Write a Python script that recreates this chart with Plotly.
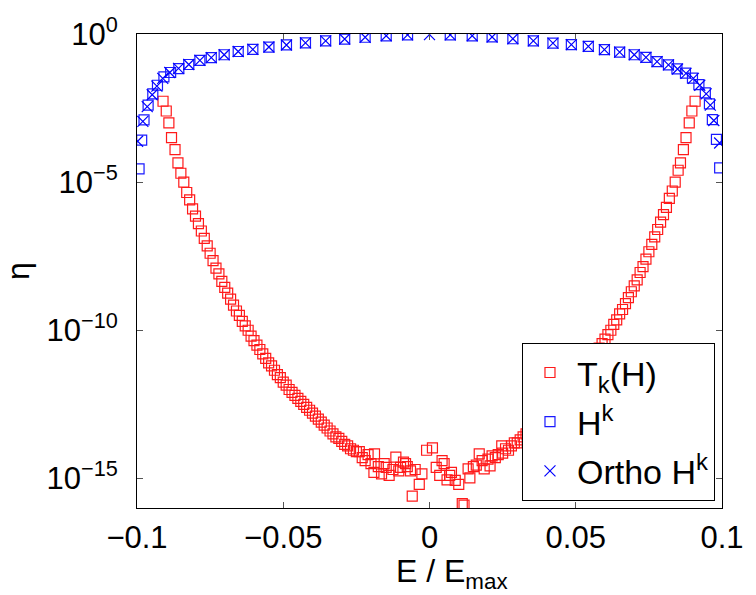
import plotly.graph_objects as go

# ---------------- data ----------------
# T_k(H): energies and log10(eta)
red_E = [
    -0.0911, -0.0900, -0.0891, -0.0882, -0.0870, -0.0860, -0.0850, -0.0840, -0.0830, -0.0820,
    -0.0810, -0.0800, -0.0790, -0.0780, -0.0770, -0.0760, -0.0750, -0.0740, -0.0730, -0.0720,
    -0.0710, -0.0700, -0.0690, -0.0680, -0.0670, -0.0660, -0.0650, -0.0640, -0.0630, -0.0620,
    -0.0610, -0.0600, -0.0590, -0.0580, -0.0570, -0.0560, -0.0550, -0.0540, -0.0530, -0.0520,
    -0.0510, -0.0500, -0.0490, -0.0480, -0.0470, -0.0460, -0.0450, -0.0440, -0.0430, -0.0420,
    -0.0410, -0.0400, -0.0390, -0.0380, -0.0370, -0.0360, -0.0350, -0.0340, -0.0330, -0.0320,
    -0.0310, -0.0300, -0.0290, -0.0280, -0.0270, -0.0260, -0.0250,
    -0.0240, -0.0230, -0.0220, -0.0210, -0.0200, -0.0190, -0.0188, -0.0175, -0.0164, -0.0155,
    -0.0148, -0.0138, -0.0125, -0.0115, -0.0105, -0.0099, -0.0089, -0.0082, -0.0076, -0.0065,
    -0.0059, -0.0049, -0.0035, -0.0026, -0.0010,
    0.0010, 0.0023, 0.0035, 0.0043, 0.0050, 0.0060, 0.0069, 0.0075, 0.0088, 0.0100,
    0.0112, 0.0118, 0.0132, 0.0138, 0.0150, 0.0160, 0.0170, 0.0180, 0.0187, 0.0200,
    0.0207, 0.0214, 0.0225, 0.0235, 0.0247,
    0.0250, 0.0260, 0.0270, 0.0280, 0.0290, 0.0300, 0.0310, 0.0320, 0.0330, 0.0340,
    0.0350, 0.0360, 0.0370, 0.0380, 0.0390, 0.0400, 0.0410, 0.0420, 0.0430, 0.0440,
    0.0450, 0.0460, 0.0470, 0.0480, 0.0490, 0.0500, 0.0510, 0.0520, 0.0530, 0.0540,
    0.0550, 0.0560, 0.0570, 0.0580, 0.0590, 0.0600, 0.0610, 0.0620, 0.0630, 0.0640,
    0.0650, 0.0660, 0.0670, 0.0680, 0.0690, 0.0700, 0.0710, 0.0720, 0.0730, 0.0740,
    0.0750, 0.0760, 0.0770, 0.0780, 0.0790, 0.0800, 0.0810, 0.0820, 0.0830, 0.0840,
    0.0850, 0.0858, 0.0868, 0.0877, 0.0888, 0.0897, 0.0908,
]
red_log10_eta = [
    -2.27, -2.60, -3.00, -3.50, -3.90, -4.35, -4.70, -5.00, -5.35, -5.60,
    -5.90, -6.15, -6.40, -6.65, -6.90, -7.15, -7.40, -7.65, -7.90, -8.10,
    -8.35, -8.55, -8.75, -8.95, -9.15, -9.35, -9.50, -9.70, -9.85, -10.00,
    -10.20, -10.35, -10.50, -10.65, -10.80, -10.95, -11.10, -11.20, -11.35, -11.50,
    -11.60, -11.75, -11.85, -12.00, -12.10, -12.20, -12.30, -12.40, -12.50, -12.60,
    -12.70, -12.80, -12.90, -13.00, -13.10, -13.20, -13.30, -13.40, -13.50, -13.60,
    -13.65, -13.75, -13.85, -13.90, -14.00, -14.05, -14.10,
    -14.10, -14.30, -14.40, -14.20, -14.50, -14.80, -14.17, -14.60, -14.85, -14.50,
    -14.63, -14.90, -14.70, -14.28, -14.75, -14.63, -14.45, -14.50, -14.60, -14.75,
    -15.60, -14.70, -15.20, -14.85, -14.05,
    -13.97, -14.63, -14.90, -14.40, -14.50, -15.05, -14.90, -14.80, -15.07, -15.20,
    -15.85, -15.90, -14.68, -14.98, -14.60, -14.55, -14.17, -14.40, -14.68, -14.35,
    -14.58, -14.24, -14.30, -14.20, -13.90,
    -14.15, -14.00, -14.05, -13.90, -13.80, -13.80, -13.70, -13.60, -13.50, -13.35,
    -13.30, -13.15, -13.10, -12.95, -12.85, -12.80, -12.65, -12.55, -12.45, -12.35,
    -12.25, -12.15, -12.00, -11.90, -11.80, -11.65, -11.55, -11.40, -11.30, -11.15,
    -11.00, -10.85, -10.75, -10.60, -10.45, -10.30, -10.15, -10.00, -9.80, -9.65,
    -9.45, -9.30, -9.10, -8.90, -8.70, -8.50, -8.30, -8.05, -7.85, -7.60,
    -7.35, -7.10, -6.85, -6.60, -6.35, -6.10, -5.85, -5.55, -5.30, -5.00,
    -4.60, -4.35, -3.90, -3.50, -3.00, -2.60, -2.27,
]

# H^k
blue_E = [
    -0.0993, -0.0984, -0.0976, -0.0962, -0.0946, -0.0930, -0.0908, -0.0885, -0.0857, -0.0823,
    -0.0785, -0.0746, -0.0702, -0.0654, -0.0604, -0.0549, -0.0489, -0.0424, -0.0355, -0.0290,
    -0.0220, -0.0148, -0.0075,
    0.0071, 0.0146, 0.0214, 0.0285, 0.0355, 0.0422, 0.0485, 0.0543, 0.0598, 0.0650,
    0.0700, 0.0740, 0.0778, 0.0817, 0.0846, 0.0875, 0.0899, 0.0921, 0.0943, 0.0957,
    0.0967, 0.0981, 0.0992,
]
blue_log10_eta = [
    -4.55, -3.58, -2.90, -2.40, -2.02, -1.73, -1.45, -1.30, -1.17, -1.03,
    -0.89, -0.80, -0.70, -0.59, -0.52, -0.44, -0.37, -0.30, -0.23, -0.17,
    -0.11, -0.06, -0.03,
    -0.03, -0.06, -0.10, -0.16, -0.23, -0.31, -0.36, -0.42, -0.53, -0.61,
    -0.70, -0.79, -0.93, -1.04, -1.18, -1.32, -1.49, -1.71, -1.99, -2.36,
    -2.89, -3.56, -4.52,
]

# Ortho H^k
ortho_E = [
    -0.0998, -0.0980, -0.0965, -0.0948, -0.0932, -0.0912, -0.0888, -0.0858, -0.0823,
    -0.0785, -0.0746, -0.0702, -0.0654, -0.0604, -0.0549, -0.0489, -0.0424, -0.0355, -0.0290,
    -0.0220, -0.0148, -0.0075, 0.0,
    0.0071, 0.0146, 0.0214, 0.0285, 0.0355, 0.0422, 0.0485, 0.0543, 0.0598, 0.0650,
    0.0700, 0.0740, 0.0778, 0.0817, 0.0848, 0.0877, 0.0902, 0.0924, 0.0946, 0.0960,
    0.0972, 0.0992,
]
ortho_log10_eta = [
    -3.62, -2.95, -2.45, -2.05, -1.76, -1.50, -1.30, -1.16, -1.03,
    -0.89, -0.80, -0.70, -0.59, -0.52, -0.44, -0.37, -0.30, -0.23, -0.17,
    -0.11, -0.06, -0.03, -0.02,
    -0.03, -0.06, -0.10, -0.16, -0.23, -0.31, -0.36, -0.42, -0.53, -0.61,
    -0.70, -0.79, -0.93, -1.04, -1.18, -1.33, -1.50, -1.73, -2.02, -2.40,
    -2.92, -3.68,
]

x_tick_vals = [-0.1, -0.05, 0, 0.05, 0.1]
x_tick_text = ["\u22120.1", "\u22120.05", "0", "0.05", "0.1"]
y_tick_vals = [1e-15, 1e-10, 1e-5, 1]
y_tick_text = ["10<sup>\u221215</sup>", "10<sup>\u221210</sup>", "10<sup>\u22125</sup>", "10<sup>0</sup>"]

# ---------------- figure ----------------
FONT = "Liberation Sans, Arial, sans-serif"
FS = 31
red_eta = [10 ** v for v in red_log10_eta]
blue_eta = [10 ** v for v in blue_log10_eta]
ortho_eta = [10 ** v for v in ortho_log10_eta]

fig = go.Figure()
fig.add_trace(go.Scatter(
    x=red_E, y=red_eta, mode="markers", name="T<sub>k</sub>(H)", legendgroup="a",
    marker=dict(symbol="square-open", size=10, color="#ff1a1a", line=dict(width=1.2)),
))
fig.add_trace(go.Scatter(
    x=blue_E, y=blue_eta, mode="markers", name="H<sup>k</sup>", legendgroup="b",
    marker=dict(symbol="square-open", size=10, color="#1a1aff", line=dict(width=1.2)),
))
fig.add_trace(go.Scatter(
    x=ortho_E, y=ortho_eta, mode="markers", name="Ortho H<sup>k</sup>", legendgroup="c",
    marker=dict(symbol="x-thin-open", size=11, color="#0000ff", line=dict(width=1.2)),
))

axis_common = dict(
    showline=True, linecolor="black", linewidth=1, mirror="ticks",
    ticks="inside", ticklen=6, tickwidth=1, tickcolor="#555555",
    showgrid=False, zeroline=False, ticklabeloverflow="allow",
    tickfont=dict(family=FONT, size=FS, color="black"),
)

fig.update_layout(
    width=756, height=595,
    margin=dict(l=126, r=22, t=32, b=87),
    paper_bgcolor="white", plot_bgcolor="white",
    font=dict(family=FONT, size=FS, color="black"),
    xaxis=dict(
        range=[-0.1, 0.1], tickvals=x_tick_vals, ticktext=x_tick_text,
        ticklabelstandoff=2,
        **axis_common,
    ),
    yaxis=dict(
        type="log", range=[-16, 0], tickvals=y_tick_vals, ticktext=y_tick_text,
        ticklabelstandoff=12,
        title=dict(text="\u03b7", font=dict(family=FONT, size=32), standoff=12),
        **axis_common,
    ),
    legend=dict(
        x=0.988, y=0.015, xanchor="right", yanchor="bottom",
        bgcolor="white", bordercolor="black", borderwidth=1,
        font=dict(family=FONT, size=34, color="black"),
        itemwidth=44, tracegroupgap=2,
    ),
    showlegend=True,
    annotations=[dict(
        text="E / E<sub>max</sub>", xref="paper", yref="paper",
        x=0.538, y=-0.09, xanchor="center", yanchor="top", showarrow=False,
        font=dict(family=FONT, size=32, color="black"),
    )],
)

fig.write_html("out.html")
